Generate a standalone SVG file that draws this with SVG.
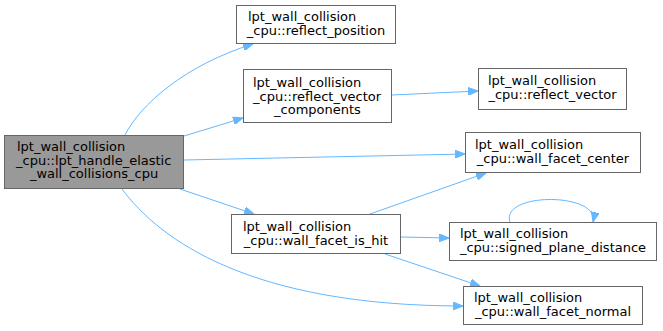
<svg xmlns="http://www.w3.org/2000/svg" width="663" height="331" viewBox="0 0 663 331">
<defs>
<style>
.box{fill:#ffffff;stroke:#666666;stroke-width:1}
.main{fill:#999999;stroke:#666666;stroke-width:1}
text{font-family:"DejaVu Sans",sans-serif;font-size:13px;fill:#000000}
.m{text-anchor:middle}
.e{fill:none;stroke:#63b8ff;stroke-width:1}
</style>
<marker id="ah" markerUnits="userSpaceOnUse" markerWidth="11" markerHeight="8" refX="10" refY="4" orient="auto">
<path d="M0,0 L10,4 L0,8 z" fill="#63b8ff" stroke="#63b8ff"/>
</marker>
</defs>
<rect width="663" height="331" fill="#ffffff"/>
<g id="edges">
<path class="e" marker-end="url(#ah)" d="M125,135 C140,105 185,65 253,44"/>
<path class="e" marker-end="url(#ah)" d="M184,136 L243,118"/>
<path class="e" marker-end="url(#ah)" d="M392,95 L478,91"/>
<path class="e" marker-end="url(#ah)" d="M184,160 L465,154"/>
<path class="e" marker-end="url(#ah)" d="M180,189 L254,214"/>
<path class="e" marker-end="url(#ah)" d="M122,189 C160,240 250,306 463,306"/>
<path class="e" marker-end="url(#ah)" d="M370,214 L486,173"/>
<path class="e" marker-end="url(#ah)" d="M401,237 L449,238"/>
<path class="e" marker-end="url(#ah)" d="M385,254 L480,286"/>
<path class="e" marker-end="url(#ah)" d="M510,222 C500,192 600,192 593,222"/>
</g>
<g id="main">
<rect class="main" x="4.5" y="135.5" width="179" height="53"/>
<text x="17" y="151">lpt_wall_collision</text>
<text x="16" y="164.5">_cpu::lpt_handle_elastic</text>
<text class="m" x="94" y="178">_wall_collisions_cpu</text>
</g>
<g id="reflect_position">
<rect class="box" x="236.5" y="5.5" width="159" height="38"/>
<text x="248" y="21">lpt_wall_collision</text>
<text class="m" x="316" y="35">_cpu::reflect_position</text>
</g>
<g id="reflect_vector_components">
<rect class="box" x="243.5" y="69.5" width="148" height="53"/>
<text x="253" y="87">lpt_wall_collision</text>
<text x="253" y="100.5">_cpu::reflect_vector</text>
<text class="m" x="317.5" y="114">_components</text>
</g>
<g id="reflect_vector">
<rect class="box" x="478.5" y="68.5" width="148" height="41"/>
<text x="488" y="85">lpt_wall_collision</text>
<text class="m" x="552.5" y="99">_cpu::reflect_vector</text>
</g>
<g id="wall_facet_center">
<rect class="box" x="465.5" y="132.5" width="175" height="40"/>
<text x="475" y="149">lpt_wall_collision</text>
<text class="m" x="553" y="163">_cpu::wall_facet_center</text>
</g>
<g id="wall_facet_is_hit">
<rect class="box" x="231.5" y="214.5" width="169" height="39"/>
<text x="243" y="231">lpt_wall_collision</text>
<text class="m" x="316" y="245">_cpu::wall_facet_is_hit</text>
</g>
<g id="signed_plane_distance">
<rect class="box" x="449.5" y="222.5" width="207" height="38"/>
<text x="460" y="238">lpt_wall_collision</text>
<text class="m" x="553" y="252">_cpu::signed_plane_distance</text>
</g>
<g id="wall_facet_normal">
<rect class="box" x="463.5" y="286.5" width="179" height="38"/>
<text x="474" y="302">lpt_wall_collision</text>
<text class="m" x="553" y="316">_cpu::wall_facet_normal</text>
</g>
</svg>
